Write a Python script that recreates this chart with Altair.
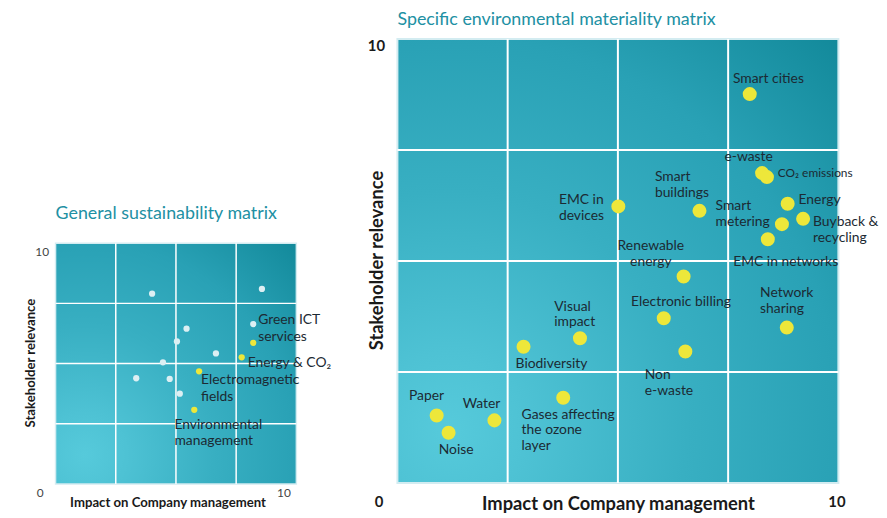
import altair as alt
import pandas as pd

# ---------------- data ----------------
# Specific environmental materiality matrix
spec_labels = ["Smart cities", "e-waste", "CO₂ emissions", "Energy", "Buyback &\nrecycling",
               "Smart\nmetering", "EMC in networks", "EMC in\ndevices", "Smart\nbuildings",
               "Renewable\nenergy", "Electronic billing", "Non\ne-waste", "Network\nsharing",
               "Visual\nimpact", "Biodiversity", "Gases affecting\nthe ozone\nlayer",
               "Paper", "Noise", "Water"]
spec_impact = [7.99, 8.27, 8.38, 8.85, 9.20, 8.72, 8.40, 5.01, 6.85, 6.49, 6.04, 6.53,
               8.83, 4.14, 2.86, 3.76, 0.89, 1.16, 2.20]
spec_relevance = [8.76, 6.98, 6.89, 6.29, 5.95, 5.83, 5.49, 6.23, 6.13, 4.65, 3.71, 2.96,
                  3.50, 3.26, 3.07, 1.92, 1.52, 1.13, 1.41]

# General sustainability matrix: highlighted (environmental) topics
gen_labels = ["Green ICT\nservices", "Energy & CO₂", "Electromagnetic\nfields",
              "Environmental\nmanagement"]
gen_impact = [8.21, 7.73, 5.96, 5.76]
gen_relevance = [5.86, 5.26, 4.68, 3.08]
# other (non-environmental) topics
other_impact = [4.01, 8.57, 8.21, 5.44, 5.04, 6.66, 4.46, 3.35, 4.74, 5.16]
other_relevance = [7.90, 8.10, 6.64, 6.45, 5.92, 5.42, 5.05, 4.39, 4.36, 3.75]

axis_ticks = [0, 10]
grid_values = [2.5, 5, 7.5]

# ---------------- layout / style ----------------
W_R, H_R = 445, 448          # big panel plot
W_L, PLOT_L = 243, 243       # small panel plot
H_L = 449                    # small panel column height (plot sits at its bottom)
Y_MAX_L = 10 * H_L / PLOT_L

# label offsets in pixels (left edge, top of first line) relative to the dot
spec_offsets = [(-17, -22), (-38, -23), (11, -9), (11, -11), (10, -4), (-67, -25),
                (-35, 16), (-60, -13), (-45, -41), (-33, -38), (-33, -23), (-41, 17),
                (-27, -42), (-26, -39), (-8, 11), (-42, 10), (-28, -27), (-10, 10), (-32, -23)]
centered_labels = ["Renewable\nenergy"]
small_labels = ["CO₂ emissions"]
gen_offsets = [(5, -30), (6, -1), (2, 2), (-20, 8)]

FONT = "Lato"
TEAL = "#2190a3"
TXT = "#1c2a33"
YELLOW = "#ede73a"

grad = {
    "gradient": "radial", "x1": 0.12, "y1": 0.88, "r1": 0,
    "x2": 0.12, "y2": 0.88, "r2": 1.25,
    "stops": [
        {"offset": 0, "color": "#56cadb"},
        {"offset": 0.14, "color": "#4ec2d4"},
        {"offset": 0.43, "color": "#38afc2"},
        {"offset": 0.71, "color": "#29a1b5"},
        {"offset": 1, "color": "#12899a"},
    ],
}

bg = pd.DataFrame({"x0": [0], "x1": [10], "y0": [0], "y1": [10]})
grid = pd.DataFrame({"v": grid_values, "lo": [0] * 3, "hi": [10] * 3})

sx_r, sy_r = W_R / 10, H_R / 10
spec = pd.DataFrame({"label": spec_labels, "x": spec_impact, "y": spec_relevance})
spec["lx"] = [x + o[0] / sx_r for x, o in zip(spec_impact, spec_offsets)]
spec["ly"] = [y - o[1] / sy_r for y, o in zip(spec_relevance, spec_offsets)]
spec_left = spec[~spec["label"].isin(centered_labels + small_labels)]
spec_center = spec[spec["label"].isin(centered_labels)]
spec_small = spec[spec["label"].isin(small_labels)]

s_l = PLOT_L / 10
gen = pd.DataFrame({"label": gen_labels, "x": gen_impact, "y": gen_relevance})
gen["lx"] = [x + o[0] / s_l for x, o in zip(gen_impact, gen_offsets)]
gen["ly"] = [y - o[1] / s_l for y, o in zip(gen_relevance, gen_offsets)]
others = pd.DataFrame({"x": other_impact, "y": other_relevance})


def panel(width, height, ymax, big):
    xs = alt.Scale(domain=[0, 10], nice=False, zero=False)
    ys = alt.Scale(domain=[0, ymax], nice=False, zero=False)
    if big:
        lab = dict(labelFontSize=15, labelFontWeight="bold", labelColor="#1a1a1a")
        tit = dict(titleFontSize=18.5, titleFontWeight="bold", titleColor="#1a1a1a")
        x_axis = alt.Axis(values=axis_ticks, title="Impact on Company management", grid=False,
                          ticks=False, domain=False, labelFont=FONT, labelPadding=19,
                          labelBaseline="middle", labelFlush=False,
                          labelOffset={"condition": {"test": "datum.value == 0", "value": -19},
                                       "value": -2},
                          titleFont=FONT, titleX=width / 2, titleY=21, titleBaseline="middle",
                          titleAlign="center", **lab, **tit)
        y_axis = alt.Axis(values=[10], title="Stakeholder relevance", grid=False, ticks=False,
                          domain=False, labelFont=FONT, labelPadding=13, labelBaseline="top",
                          titleFont=FONT, titleX=-21, titleY=223, titleAngle=270,
                          titleBaseline="middle", titleAlign="center", **lab, **tit)
    else:
        lab = dict(labelFontSize=12, labelFontWeight="normal", labelColor="#444444")
        tit = dict(titleFontSize=13.3, titleFontWeight="bold", titleColor="#1a1a1a")
        x_axis = alt.Axis(values=axis_ticks, title="Impact on Company management", grid=False,
                          ticks=False, domain=False, labelFont=FONT, labelPadding=9,
                          labelBaseline="middle", labelFlush=False,
                          labelOffset={"condition": {"test": "datum.value == 0", "value": -16},
                                       "value": -13},
                          titleFont=FONT, titleX=113, titleY=19, titleBaseline="middle",
                          titleAlign="center", **lab, **tit)
        y_axis = alt.Axis(values=[10], title="Stakeholder relevance", grid=False, ticks=False,
                          domain=False, labelFont=FONT, labelPadding=7, labelBaseline="top",
                          labelOffset=3,
                          titleFont=FONT, titleX=-25, titleY=height - PLOT_L / 2 - 1,
                          titleAngle=270, titleBaseline="middle", titleAlign="center",
                          **lab, **tit)

    back = alt.Chart(bg).mark_rect(fill=grad, stroke="#d3ecf1",
                                   strokeWidth=2 if big else 1.5).encode(
        x=alt.X("x0:Q", scale=xs, axis=x_axis),
        x2="x1:Q",
        y=alt.Y("y0:Q", scale=ys, axis=y_axis),
        y2="y1:Q",
    )
    gw = 2 if big else 1.5
    vgrid = alt.Chart(grid).mark_rule(color="white", strokeWidth=gw).encode(
        x=alt.X("v:Q", scale=xs), y=alt.Y("lo:Q", scale=ys), y2="hi:Q")
    hgrid = alt.Chart(grid).mark_rule(color="white", strokeWidth=gw).encode(
        y=alt.Y("v:Q", scale=ys), x=alt.X("lo:Q", scale=xs), x2="hi:Q")
    return xs, ys, [back, vgrid, hgrid]


# ---- big panel ----
xs, ys, layers_r = panel(W_R, H_R, 10, True)
dots_r = alt.Chart(spec).mark_circle(size=200, color=YELLOW, opacity=1).encode(
    x=alt.X("x:Q", scale=xs), y=alt.Y("y:Q", scale=ys))
txt_style = dict(baseline="top", lineBreak="\n", lineHeight=16, font=FONT, color=TXT)
lab_r = alt.Chart(spec_left).mark_text(align="left", fontSize=14, **txt_style).encode(
    x=alt.X("lx:Q", scale=xs), y=alt.Y("ly:Q", scale=ys), text="label:N")
lab_rc = alt.Chart(spec_center).mark_text(align="center", fontSize=14, **txt_style).encode(
    x=alt.X("lx:Q", scale=xs), y=alt.Y("ly:Q", scale=ys), text="label:N")
lab_rs = alt.Chart(spec_small).mark_text(align="left", fontSize=12, **txt_style).encode(
    x=alt.X("lx:Q", scale=xs), y=alt.Y("ly:Q", scale=ys), text="label:N")
right = alt.layer(*layers_r, dots_r, lab_r, lab_rc, lab_rs).properties(
    width=W_R, height=H_R,
    title=alt.TitleParams("Specific environmental materiality matrix", anchor="start",
                          frame="group", fontSize=18, font=FONT, fontWeight="normal",
                          color=TEAL, baseline="middle", offset=0),
)

# ---- small panel ----
xs2, ys2, layers_l = panel(W_L, H_L, Y_MAX_L, False)
dots_o = alt.Chart(others).mark_circle(size=40, color="#dcEff3", opacity=1).encode(
    x=alt.X("x:Q", scale=xs2), y=alt.Y("y:Q", scale=ys2))
dots_l = alt.Chart(gen).mark_circle(size=40, color=YELLOW, opacity=1).encode(
    x=alt.X("x:Q", scale=xs2), y=alt.Y("y:Q", scale=ys2))
lab_l = alt.Chart(gen).mark_text(align="left", baseline="top", lineBreak="\n", lineHeight=17,
                                 font=FONT, fontSize=14, color=TXT).encode(
    x=alt.X("lx:Q", scale=xs2), y=alt.Y("ly:Q", scale=ys2), text="label:N")
left = alt.layer(*layers_l, dots_o, dots_l, lab_l).properties(
    width=W_L, height=H_L,
    title=alt.TitleParams("General sustainability matrix", anchor="start", frame="group",
                          fontSize=18, font=FONT, fontWeight="normal", color=TEAL,
                          baseline="middle", offset=0, dy=195),
)

chart = alt.hconcat(left, right, spacing=102, bounds="flush").properties(
    padding={"left": 16, "top": 1, "right": 0, "bottom": 0},
    background="white",
).configure_view(stroke=None)

chart.save("out.html", embed_options={"renderer": "svg", "actions": False})
